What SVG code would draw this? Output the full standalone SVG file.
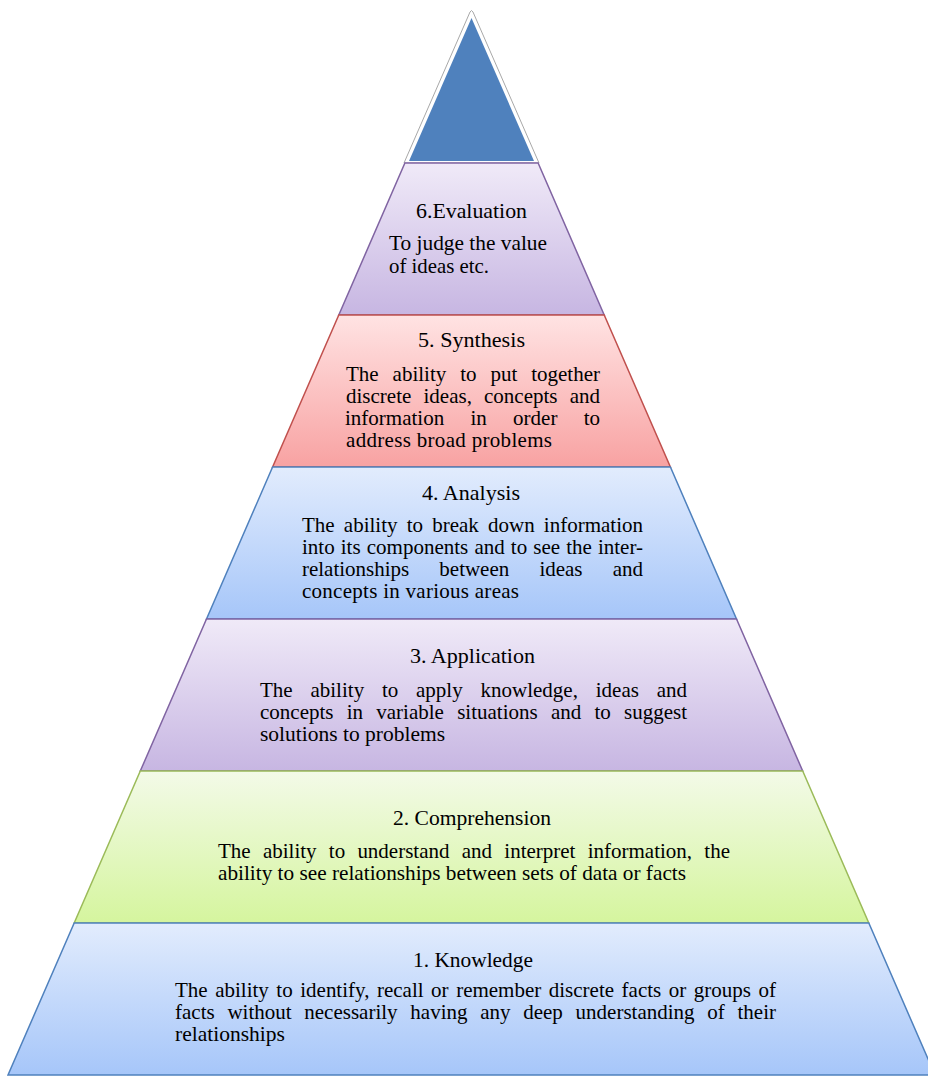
<svg xmlns="http://www.w3.org/2000/svg" width="928" height="1077" viewBox="0 0 928 1077">
<defs>
<linearGradient id="gPurple" x1="0" y1="0" x2="0" y2="1"><stop offset="0" stop-color="#F0EAF8"/><stop offset="1" stop-color="#C7B6E2"/></linearGradient>
<linearGradient id="gRed" x1="0" y1="0" x2="0" y2="1"><stop offset="0" stop-color="#FFE3E3"/><stop offset="1" stop-color="#F8A2A2"/></linearGradient>
<linearGradient id="gBlue" x1="0" y1="0" x2="0" y2="1"><stop offset="0" stop-color="#E2ECFD"/><stop offset="1" stop-color="#A6C6F9"/></linearGradient>
<linearGradient id="gGreen" x1="0" y1="0" x2="0" y2="1"><stop offset="0" stop-color="#F3FAE8"/><stop offset="1" stop-color="#D5F59E"/></linearGradient>
</defs>
<style>
text{font-family:"Liberation Serif","Times New Roman",serif;font-size:21px;fill:#000;}
.purple{fill:url(#gPurple);stroke:#8064A2;stroke-width:1.5;}
.red{fill:url(#gRed);stroke:#C0504D;stroke-width:1.5;}
.blue{fill:url(#gBlue);stroke:#4F81BD;stroke-width:1.5;}
.green{fill:url(#gGreen);stroke:#9BBB59;stroke-width:1.5;}
</style>
<rect width="928" height="1077" fill="#FFFFFF"/>
<g id="apex">
<path d="M470 12 Q471.5 9 473 12 L539 163 L404 163 Z" fill="#FFFFFF" stroke="#A8A8A8" stroke-width="1"/>
<path d="M471.5 18 L534 161 L409 161 Z" fill="#4F81BD"/>
</g>
<g id="layer6">
<path class="purple" d="M404.9 163 L538.1 163 L604.2 315 L338.8 315 Z"/>
<text x="416" y="218" textLength="111" lengthAdjust="spacingAndGlyphs">6.Evaluation</text>
<text x="389" y="250" textLength="158" lengthAdjust="spacingAndGlyphs">To judge the value</text>
<text x="389" y="273" textLength="100" lengthAdjust="spacingAndGlyphs">of ideas etc.</text>
</g>
<g id="layer5">
<path class="red" d="M338.8 315 L604.2 315 L670.4 467 L272.6 467 Z"/>
<text x="418" y="347" textLength="107" lengthAdjust="spacingAndGlyphs">5. Synthesis</text>
<text x="346" y="381" word-spacing="8.7" textLength="254">The ability to put together</text>
<text x="346" y="403" word-spacing="6.9" textLength="254">discrete ideas, concepts and</text>
<text x="345" y="425" word-spacing="21" textLength="255">information in order to</text>
<text x="346" y="447" textLength="206">address broad problems</text>
</g>
<g id="layer4">
<path class="blue" d="M272.6 467 L670.4 467 L736.5 619 L206.5 619 Z"/>
<text x="422" y="500" textLength="98" lengthAdjust="spacingAndGlyphs">4. Analysis</text>
<text x="302" y="532" word-spacing="3.9" textLength="341">The ability to break down information</text>
<text x="302" y="554" word-spacing="0.8" textLength="341">into its components and to see the inter-</text>
<text x="302" y="576" word-spacing="25" textLength="341">relationships between ideas and</text>
<text x="302" y="598" textLength="217">concepts in various areas</text>
</g>
<g id="layer3">
<path class="purple" d="M206.5 619 L736.5 619 L802.7 771 L140.3 771 Z"/>
<text x="410" y="663" textLength="125" lengthAdjust="spacingAndGlyphs">3. Application</text>
<text x="260" y="697" word-spacing="12.5" textLength="427">The ability to apply knowledge, ideas and</text>
<text x="260" y="719" word-spacing="8" textLength="427">concepts in variable situations and to suggest</text>
<text x="260" y="741" textLength="185" lengthAdjust="spacingAndGlyphs">solutions to problems</text>
</g>
<g id="layer2">
<path class="green" d="M140.3 771 L802.7 771 L868.8 923 L74.2 923 Z"/>
<text x="393" y="825" textLength="158" lengthAdjust="spacingAndGlyphs">2. Comprehension</text>
<text x="218" y="858" word-spacing="7" textLength="512">The ability to understand and interpret information, the</text>
<text x="218" y="880" textLength="468" lengthAdjust="spacingAndGlyphs">ability to see relationships between sets of data or facts</text>
</g>
<g id="layer1">
<path class="blue" d="M74.2 923 L868.8 923 L935 1075 L8 1075 Z"/>
<text x="413" y="967" textLength="120" lengthAdjust="spacingAndGlyphs">1. Knowledge</text>
<text x="175" y="997" word-spacing="2.3" textLength="601">The ability to identify, recall or remember discrete facts or groups of</text>
<text x="175" y="1019" word-spacing="7.5" textLength="601">facts without necessarily having any deep understanding of their</text>
<text x="175" y="1041" textLength="110" lengthAdjust="spacingAndGlyphs">relationships</text>
</g>
</svg>
